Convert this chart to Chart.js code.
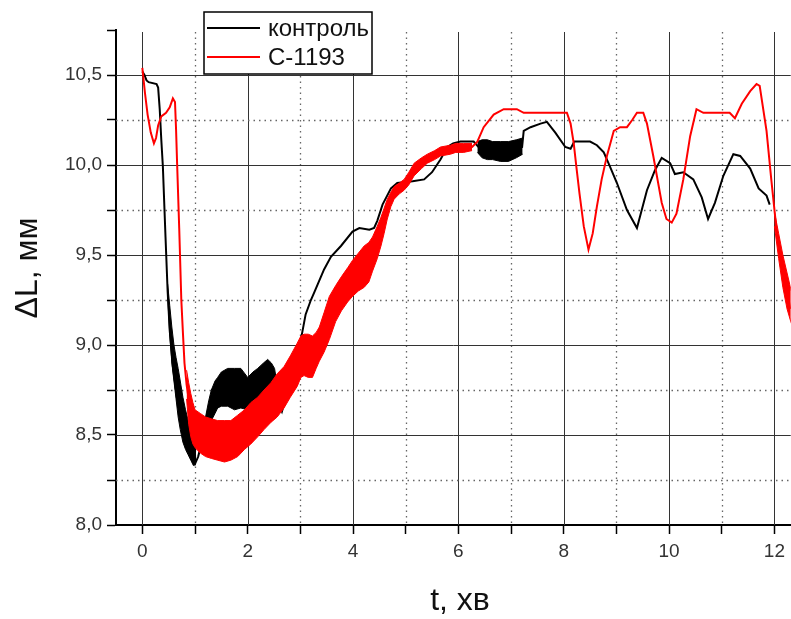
<!DOCTYPE html>
<html>
<head>
<meta charset="utf-8">
<title>ΔL(t)</title>
<script src="https://cdn.jsdelivr.net/npm/chart.js@4.4.1/dist/chart.umd.min.js"></script>
<style>
  html, body { margin: 0; padding: 0; background: #fff; }
  #chart { display: block; }
</style>
</head>
<body>
<canvas id="chart" width="791" height="619"></canvas>
<script>
const FONT = '"Liberation Sans", Arial, sans-serif';

// axis ticks that carry a label (the rest are minor ticks)
const xLabelTicks = [0, 2, 4, 6, 8, 10, 12];
const yLabelTicks = [8.0, 8.5, 9.0, 9.5, 10.0, 10.5];

// контроль
const ctrlT = [0.00, 0.04, 0.08, 0.12, 0.27, 0.30, 0.33, 0.36, 0.39, 0.44, 0.48, 0.52, 0.58, 0.66, 0.75, 0.85, 0.93, 1.00,
  1.06, 1.12, 1.20, 1.31, 1.43, 1.60, 1.80, 2.00, 2.20, 2.38, 2.50, 2.58, 2.65, 2.72, 2.81, 2.94, 3.01, 3.10, 3.20, 3.26,
  3.45, 3.58, 3.77, 3.99, 4.12, 4.31, 4.40, 4.46, 4.56, 4.72, 4.84, 5.13, 5.35, 5.50, 5.66, 5.79, 5.90, 6.04, 6.29, 6.38,
  6.60, 6.90, 7.21, 7.24, 7.37, 7.56, 7.68, 7.84, 8.03, 8.13, 8.20, 8.31, 8.50, 8.63, 8.76, 8.88, 9.01, 9.20, 9.39, 9.58,
  9.73, 9.86, 10.02, 10.11, 10.27, 10.46, 10.62, 10.74, 10.87, 11.03, 11.22, 11.35, 11.54, 11.70, 11.85, 11.91];
const ctrlV = [10.52, 10.50, 10.47, 10.46, 10.45, 10.43, 10.31, 10.14, 9.99, 9.60, 9.30, 9.08, 8.88, 8.70, 8.58, 8.48, 8.40, 8.34,
  8.38, 8.45, 8.58, 8.70, 8.74, 8.77, 8.76, 8.74, 8.77, 8.80, 8.77, 8.68, 8.63, 8.70, 8.80, 8.92, 9.03, 9.17, 9.25, 9.29,
  9.42, 9.49, 9.55, 9.63, 9.65, 9.64, 9.65, 9.69, 9.78, 9.87, 9.90, 9.91, 9.92, 9.96, 10.03, 10.10, 10.12, 10.13, 10.13, 10.10,
  10.08, 10.07, 10.10, 10.19, 10.21, 10.23, 10.24, 10.18, 10.10, 10.09, 10.13, 10.13, 10.13, 10.11, 10.07, 9.99, 9.90, 9.75, 9.65, 9.86,
  9.97, 10.04, 10.01, 9.95, 9.96, 9.92, 9.82, 9.70, 9.79, 9.94, 10.06, 10.05, 9.98, 9.87, 9.83, 9.78];

// контроль: jittery stretches, low / high envelope
const ctrlDropT = [0.48, 0.52, 0.56, 0.60, 0.64, 0.68, 0.72, 0.77, 0.82, 0.87, 0.92, 0.97, 1.02];
const ctrlDropLo = [9.28, 9.06, 8.90, 8.80, 8.70, 8.60, 8.53, 8.46, 8.42, 8.39, 8.36, 8.33, 8.34];
const ctrlDropHi = [9.34, 9.22, 9.10, 9.00, 8.93, 8.87, 8.80, 8.71, 8.64, 8.58, 8.52, 8.46, 8.42];

const ctrlHumpT = [1.14, 1.20, 1.26, 1.31, 1.38, 1.43, 1.50, 1.62, 1.75, 1.87, 2.00, 2.10, 2.19, 2.30, 2.38, 2.45, 2.51, 2.56];
const ctrlHumpLo = [8.42, 8.48, 8.54, 8.58, 8.62, 8.65, 8.66, 8.66, 8.64, 8.65, 8.64, 8.64, 8.65, 8.66, 8.67, 8.66, 8.65, 8.68];
const ctrlHumpHi = [8.48, 8.60, 8.69, 8.75, 8.80, 8.82, 8.85, 8.87, 8.87, 8.87, 8.82, 8.85, 8.87, 8.90, 8.92, 8.90, 8.87, 8.78];

const ctrlShelfT = [6.36, 6.45, 6.55, 6.65, 6.80, 6.95, 7.10, 7.22];
const ctrlShelfLo = [10.07, 10.04, 10.03, 10.03, 10.02, 10.02, 10.04, 10.06];
const ctrlShelfHi = [10.13, 10.14, 10.14, 10.13, 10.13, 10.13, 10.14, 10.15];

// С-1193
const sampleT = [0.00, 0.05, 0.10, 0.16, 0.22, 0.26, 0.30, 0.36, 0.45, 0.52, 0.58, 0.62, 0.64, 0.66, 0.70, 0.74, 0.77, 0.80,
  0.84, 0.92, 1.10, 1.43, 1.68, 1.94, 2.19, 2.44, 2.69, 2.94, 3.07, 3.23, 3.36, 3.55, 3.78, 3.99, 4.21, 4.37, 4.53, 4.65,
  4.78, 4.97, 5.16, 5.41, 5.66, 5.85, 6.10, 6.26, 6.36, 6.48, 6.67, 6.86, 7.11, 7.24, 7.56, 8.06, 8.13, 8.19, 8.24, 8.30,
  8.38, 8.47, 8.55, 8.63, 8.72, 8.82, 8.95, 9.07, 9.20, 9.30, 9.39, 9.51, 9.58, 9.70, 9.86, 9.95, 10.05, 10.14, 10.27, 10.40,
  10.52, 10.65, 11.15, 11.25, 11.38, 11.54, 11.66, 11.72, 11.85, 11.94, 12.04, 12.17, 12.30];
const sampleV = [10.54, 10.40, 10.28, 10.18, 10.12, 10.15, 10.22, 10.27, 10.29, 10.32, 10.37, 10.35, 10.20, 10.01, 9.65, 9.25, 9.07, 8.90,
  8.78, 8.62, 8.51, 8.47, 8.47, 8.53, 8.60, 8.68, 8.77, 8.89, 8.95, 8.94, 9.01, 9.16, 9.29, 9.38, 9.44, 9.51, 9.63, 9.76,
  9.85, 9.89, 9.98, 10.04, 10.08, 10.09, 10.10, 10.10, 10.13, 10.21, 10.28, 10.31, 10.31, 10.29, 10.29, 10.29, 10.23, 10.12, 9.99, 9.84,
  9.66, 9.53, 9.62, 9.77, 9.92, 10.05, 10.19, 10.21, 10.21, 10.25, 10.29, 10.29, 10.23, 10.05, 9.79, 9.70, 9.68, 9.73, 9.92, 10.16,
  10.31, 10.29, 10.29, 10.26, 10.34, 10.41, 10.45, 10.44, 10.19, 9.92, 9.64, 9.42, 9.20];

// С-1193: wide jittery band through the trough and the recovery
const sampleBandT = [0.84, 0.88, 0.92, 0.96, 1.00, 1.10, 1.20, 1.31, 1.43, 1.56, 1.68, 1.81, 1.94, 2.06, 2.19, 2.31, 2.44, 2.56,
  2.69, 2.81, 2.94, 3.01, 3.07, 3.15, 3.23, 3.30, 3.36, 3.45, 3.55, 3.67, 3.78, 3.90, 3.99, 4.10, 4.21, 4.30, 4.37, 4.46,
  4.53, 4.59, 4.65, 4.72, 4.78, 4.88, 4.97, 5.06, 5.16, 5.30, 5.41, 5.55, 5.66, 5.85, 5.95, 6.10, 6.26];
const sampleBandLo = [8.70, 8.56, 8.49, 8.45, 8.43, 8.40, 8.38, 8.37, 8.36, 8.35, 8.36, 8.38, 8.42, 8.45, 8.49, 8.53, 8.57, 8.60,
  8.65, 8.71, 8.77, 8.82, 8.83, 8.82, 8.82, 8.87, 8.91, 8.96, 9.03, 9.13, 9.19, 9.24, 9.27, 9.30, 9.32, 9.35, 9.41, 9.48,
  9.55, 9.62, 9.70, 9.77, 9.81, 9.84, 9.86, 9.89, 9.94, 9.98, 10.01, 10.03, 10.05, 10.06, 10.07, 10.07, 10.08];
const sampleBandHi = [8.86, 8.79, 8.73, 8.68, 8.64, 8.62, 8.60, 8.59, 8.58, 8.58, 8.58, 8.61, 8.64, 8.68, 8.71, 8.75, 8.79, 8.84,
  8.88, 8.94, 9.01, 9.05, 9.06, 9.06, 9.05, 9.07, 9.10, 9.18, 9.27, 9.33, 9.38, 9.43, 9.47, 9.51, 9.55, 9.57, 9.60, 9.66,
  9.71, 9.76, 9.81, 9.85, 9.88, 9.90, 9.92, 9.96, 10.01, 10.04, 10.06, 10.08, 10.10, 10.11, 10.12, 10.12, 10.12];

const sampleTailT = [12.00, 12.08, 12.16, 12.24, 12.32];
const sampleTailLo = [9.66, 9.48, 9.32, 9.20, 9.12];
const sampleTailHi = [9.74, 9.62, 9.50, 9.40, 9.30];

const RED = "#ff0000";
const BLACK = "#000000";

function toPoints(ts, vs) {
  return ts.map((t, i) => ({ x: t, y: vs[i] }));
}

function trace(ts, vs, color, order) {
  return {
    data: toPoints(ts, vs),
    borderColor: color,
    borderWidth: 2,
    pointRadius: 0,
    tension: 0,
    fill: false,
    order
  };
}

// two datasets: upper edge, then lower edge filled up to it
function envelope(ts, lo, hi, color, order) {
  return [
    { data: toPoints(ts, hi), borderColor: color, borderWidth: 1, pointRadius: 0, tension: 0, fill: false, order },
    { data: toPoints(ts, lo), borderColor: color, borderWidth: 1, pointRadius: 0, tension: 0, fill: "-1", backgroundColor: color, order }
  ];
}

const datasets = [
  trace(sampleT, sampleV, RED, 0),
  ...envelope(sampleBandT, sampleBandLo, sampleBandHi, RED, 0),
  ...envelope(sampleTailT, sampleTailLo, sampleTailHi, RED, 0),
  trace(ctrlT, ctrlV, BLACK, 1),
  ...envelope(ctrlDropT, ctrlDropLo, ctrlDropHi, BLACK, 1),
  ...envelope(ctrlHumpT, ctrlHumpLo, ctrlHumpHi, BLACK, 1),
  ...envelope(ctrlShelfT, ctrlShelfLo, ctrlShelfHi, BLACK, 1)
];

function isLabelTick(list, value) {
  return list.some((v) => Math.abs(v - value) < 1e-6);
}

// solid grid on labelled ticks, dotted on the minor ones
const gridPlugin = {
  id: "plotGrid",
  beforeDatasetsDraw(chart) {
    const { ctx, chartArea: area, scales: { x, y } } = chart;
    ctx.save();

    x.ticks.forEach((tick) => {
      const px = Math.round(x.getPixelForValue(tick.value)) + 0.5;
      const major = isLabelTick(xLabelTicks, tick.value);
      ctx.beginPath();
      ctx.setLineDash(major ? [] : [1.5, 4]);
      ctx.strokeStyle = major ? "#333" : "#666";
      ctx.lineWidth = major ? 1 : 1.3;
      ctx.moveTo(px, area.top + 2);
      ctx.lineTo(px, area.bottom);
      ctx.stroke();
    });

    y.ticks.forEach((tick) => {
      if (tick.value <= y.min || tick.value >= y.max) {
        return;
      }
      const py = Math.round(y.getPixelForValue(tick.value)) + 0.5;
      const major = isLabelTick(yLabelTicks, tick.value);
      ctx.beginPath();
      ctx.setLineDash(major ? [] : [1.5, 4]);
      ctx.strokeStyle = major ? "#333" : "#666";
      ctx.lineWidth = major ? 1 : 1.3;
      ctx.moveTo(area.left, py);
      ctx.lineTo(area.right, py);
      ctx.stroke();
    });

    ctx.restore();
  }
};

// axis titles and the boxed legend
const decorPlugin = {
  id: "decor",
  afterDraw(chart) {
    const { ctx } = chart;
    ctx.save();

    ctx.fillStyle = "#111";
    ctx.font = `32px ${FONT}`;
    ctx.textAlign = "center";
    ctx.textBaseline = "alphabetic";
    ctx.fillText("t, хв", 460, 610);

    ctx.translate(37, 268);
    ctx.rotate(-Math.PI / 2);
    ctx.fillText("ΔL, мм", 0, 0);
    ctx.setTransform(1, 0, 0, 1, 0, 0);

    const box = { x: 204, y: 12, w: 168, h: 62 };
    ctx.fillStyle = "#fff";
    ctx.fillRect(box.x, box.y, box.w, box.h);
    ctx.strokeStyle = "#000";
    ctx.lineWidth = 1.5;
    ctx.strokeRect(box.x, box.y, box.w, box.h);

    const rows = [
      { text: "контроль", color: BLACK, y: 28 },
      { text: "С-1193", color: RED, y: 57 }
    ];
    ctx.font = `24px ${FONT}`;
    ctx.textAlign = "left";
    ctx.textBaseline = "middle";
    rows.forEach((row) => {
      ctx.beginPath();
      ctx.strokeStyle = row.color;
      ctx.lineWidth = 2;
      ctx.moveTo(207, row.y);
      ctx.lineTo(260, row.y);
      ctx.stroke();
      ctx.fillStyle = "#111";
      ctx.fillText(row.text, 268, row.y + 1);
    });

    ctx.restore();
  }
};

new Chart(document.getElementById("chart"), {
  type: "line",
  data: { datasets },
  plugins: [gridPlugin, decorPlugin],
  options: {
    responsive: false,
    animation: false,
    events: [],
    layout: { padding: { top: 30, right: 0, bottom: 0, left: 0 } },
    plugins: {
      legend: { display: false },
      tooltip: { enabled: false }
    },
    scales: {
      x: {
        type: "linear",
        min: -0.5,
        max: 12.31,
        afterFit: (scale) => { scale.height = 94; },
        border: { color: "#000", width: 2 },
        grid: { drawOnChartArea: false, drawTicks: true, tickLength: 9, tickColor: "#000", tickWidth: 1.5 },
        ticks: {
          stepSize: 1,
          includeBounds: false,
          autoSkip: false,
          maxRotation: 0,
          maxTicksLimit: 100,
          padding: 6,
          color: "#333",
          font: { family: FONT, size: 19 },
          callback: (value) => (isLabelTick(xLabelTicks, value) ? String(value) : "")
        }
      },
      y: {
        min: 8,
        max: 10.75,
        afterFit: (scale) => { scale.width = 116; },
        border: { color: "#000", width: 2 },
        grid: { drawOnChartArea: false, drawTicks: true, tickLength: 9, tickColor: "#000", tickWidth: 1.5 },
        ticks: {
          stepSize: 0.25,
          includeBounds: false,
          autoSkip: false,
          maxTicksLimit: 100,
          padding: 5,
          color: "#333",
          font: { family: FONT, size: 19 },
          callback: (value) => (isLabelTick(yLabelTicks, value) ? value.toFixed(1).replace(".", ",") : "")
        }
      }
    }
  }
});
</script>
</body>
</html>
